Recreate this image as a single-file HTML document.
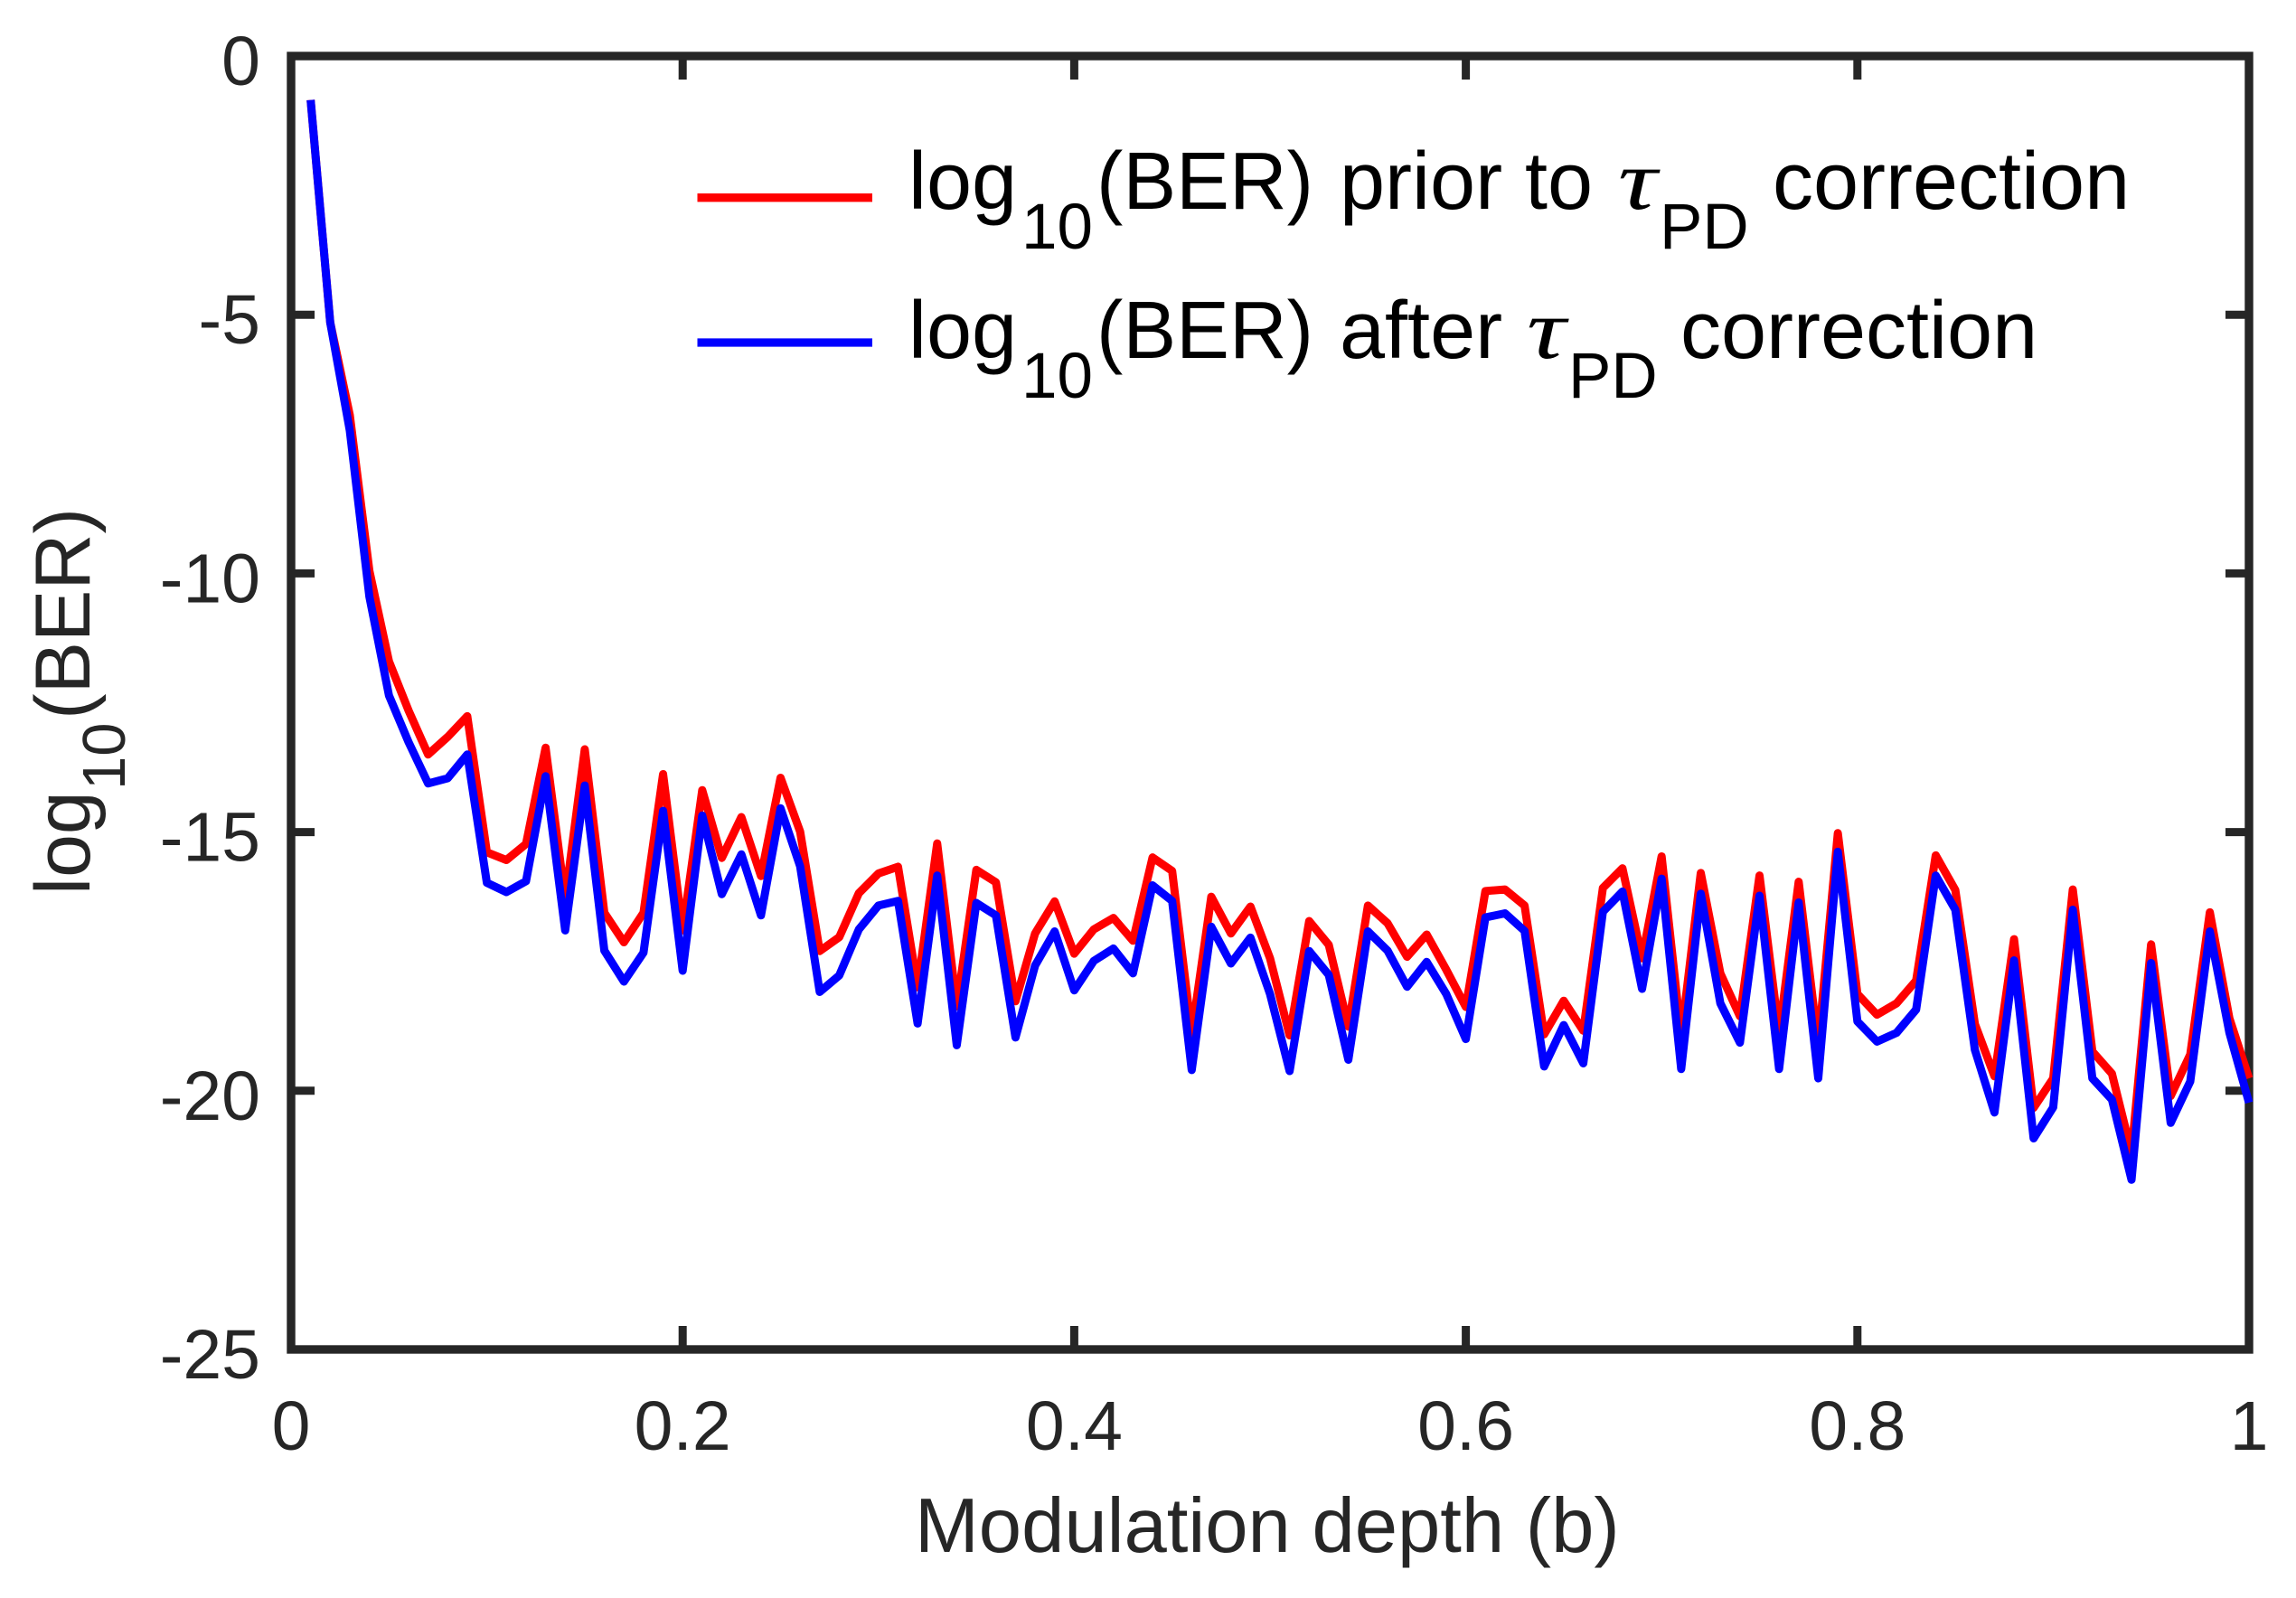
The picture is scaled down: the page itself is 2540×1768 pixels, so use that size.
<!DOCTYPE html>
<html lang="en">
<head>
<meta charset="utf-8">
<title>log10(BER) versus modulation depth</title>
<style>
  html, body { margin: 0; padding: 0; background: #ffffff; }
  body { width: 2540px; height: 1768px; overflow: hidden; }
  svg { display: block; }
  text { font-family: "Liberation Sans", Arial, sans-serif; }
  .tick-label { font-size: 77px; fill: #262626; }
  .axis-title { font-size: 86px; fill: #262626; }
  .axis-sub { font-size: 67px; fill: #262626; }
  .legend-text { font-size: 90px; fill: #000000; }
  .legend-sub { font-size: 71px; fill: #000000; }
  .legend-tau { font-family: "Liberation Serif", serif; font-style: italic; font-size: 94px; fill: #000000; }
</style>
</head>
<body>
<svg id="chart" xmlns="http://www.w3.org/2000/svg" width="2540" height="1768" viewBox="0 0 2540 1768">
  <rect x="0" y="0" width="2540" height="1768" fill="#ffffff"/>
  <g id="ticks"></g>
  <rect x="322" y="62" width="2166" height="1431" fill="none" stroke="#262626" stroke-width="9.4"/>
  <g id="series"></g>
  <g id="tick-labels"></g>

  <text class="axis-title" x="1012" y="1717" style="font-size:85px">Modulation depth (b)</text>

  <g transform="translate(99,984) rotate(-90)">
    <text class="axis-title" x="-6" y="0">log</text>
    <text class="axis-sub" x="110" y="39">10</text>
    <text class="axis-title" x="188" y="0">(BER)</text>
  </g>

  <g>
    <g>
      <line x1="771.5" y1="218.7" x2="965" y2="218.7" stroke="#ff0000" stroke-width="9.3"/>
      <text class="legend-text" x="1005" y="231">log</text>
      <text class="legend-sub" x="1130" y="275">10</text>
      <text class="legend-text" x="1213" y="231" textLength="240" lengthAdjust="spacingAndGlyphs">(BER)</text>
      <text class="legend-text" x="1482" y="231">prior to</text>
      <text class="legend-tau" transform="translate(1790,231) scale(1.28,1)" x="0" y="0">τ</text>
      <text class="legend-sub" x="1836" y="275">PD</text>
      <text class="legend-text" x="1961" y="231">correction</text>
    </g>
    <g>
      <line x1="771.5" y1="379" x2="965" y2="379" stroke="#0000ff" stroke-width="9.3"/>
      <text class="legend-text" x="1005" y="396">log</text>
      <text class="legend-sub" x="1130" y="440">10</text>
      <text class="legend-text" x="1213" y="396" textLength="240" lengthAdjust="spacingAndGlyphs">(BER)</text>
      <text class="legend-text" x="1482" y="396">after</text>
      <text class="legend-tau" transform="translate(1689,396) scale(1.28,1)" x="0" y="0">τ</text>
      <text class="legend-sub" x="1735" y="440">PD</text>
      <text class="legend-text" x="1859" y="396">correction</text>
    </g>
  </g>
</svg>

<script>
const modulationDepth = [
  0.01,0.02,0.03,0.04,0.05,0.06,0.07,0.08,0.09,0.10,
  0.11,0.12,0.13,0.14,0.15,0.16,0.17,0.18,0.19,0.20,
  0.21,0.22,0.23,0.24,0.25,0.26,0.27,0.28,0.29,0.30,
  0.31,0.32,0.33,0.34,0.35,0.36,0.37,0.38,0.39,0.40,
  0.41,0.42,0.43,0.44,0.45,0.46,0.47,0.48,0.49,0.50,
  0.51,0.52,0.53,0.54,0.55,0.56,0.57,0.58,0.59,0.60,
  0.61,0.62,0.63,0.64,0.65,0.66,0.67,0.68,0.69,0.70,
  0.71,0.72,0.73,0.74,0.75,0.76,0.77,0.78,0.79,0.80,
  0.81,0.82,0.83,0.84,0.85,0.86,0.87,0.88,0.89,0.90,
  0.91,0.92,0.93,0.94,0.95,0.96,0.97,0.98,0.99,1.00
];
const berPriorToCorrection = [
  -0.85,-5.15,-6.94,-9.95,-11.70,-12.65,-13.50,-13.16,-12.76,-15.39,
  -15.54,-15.23,-13.37,-16.30,-13.40,-16.56,-17.13,-16.56,-13.88,-16.90,
  -14.19,-15.50,-14.71,-15.85,-13.95,-14.99,-17.30,-17.03,-16.18,-15.80,
  -15.67,-18.00,-15.22,-18.37,-15.73,-15.97,-18.27,-16.96,-16.34,-17.35,
  -16.88,-16.66,-17.10,-15.49,-15.75,-18.90,-16.25,-16.96,-16.44,-17.44,
  -18.93,-16.72,-17.18,-18.76,-16.42,-16.76,-17.41,-16.98,-17.66,-18.38,
  -16.14,-16.11,-16.42,-18.91,-18.26,-18.84,-16.08,-15.70,-17.44,-15.47,
  -18.95,-15.79,-17.73,-18.56,-15.84,-18.90,-15.96,-19.12,-15.02,-18.13,
  -18.53,-18.31,-17.87,-15.45,-16.12,-18.71,-19.72,-17.07,-20.33,-19.76,
  -16.11,-19.24,-19.67,-21.20,-17.17,-20.10,-19.30,-16.55,-18.60,-19.76
];
const berAfterCorrection = [
  -0.85,-5.15,-7.24,-10.45,-12.36,-13.26,-14.06,-13.96,-13.50,-15.98,
  -16.16,-15.95,-13.92,-16.90,-14.10,-17.29,-17.89,-17.33,-14.59,-17.68,
  -14.68,-16.20,-15.43,-16.61,-14.54,-15.66,-18.09,-17.77,-16.88,-16.42,
  -16.33,-18.70,-15.84,-19.12,-16.37,-16.61,-18.97,-17.58,-16.92,-18.06,
  -17.49,-17.25,-17.73,-16.03,-16.33,-19.60,-16.83,-17.54,-17.04,-18.13,
  -19.62,-17.30,-17.76,-19.40,-16.92,-17.29,-17.99,-17.51,-18.13,-19.00,
  -16.65,-16.57,-16.91,-19.53,-18.73,-19.47,-16.54,-16.15,-18.03,-15.90,
  -19.58,-16.19,-18.31,-19.07,-16.23,-19.58,-16.36,-19.76,-15.38,-18.66,
  -19.05,-18.88,-18.43,-15.84,-16.50,-19.21,-20.42,-17.48,-20.92,-20.32,
  -16.50,-19.76,-20.17,-21.72,-17.53,-20.62,-19.82,-16.92,-18.88,-20.23
];
const xTickValues = [0, 0.2, 0.4, 0.6, 0.8, 1];
const xTickLabels = ["0", "0.2", "0.4", "0.6", "0.8", "1"];
const yTickValues = [0, -5, -10, -15, -20, -25];
const yTickLabels = ["0", "-5", "-10", "-15", "-20", "-25"];

const SVG_NS = "http://www.w3.org/2000/svg";
const plotLeft = 322, plotRight = 2488, plotTop = 62, plotBottom = 1493;
const xMin = 0, xMax = 1, yMin = -25, yMax = 0;
const tickLength = 26;

function xScale(v) { return plotLeft + (v - xMin) / (xMax - xMin) * (plotRight - plotLeft); }
function yScale(v) { return plotBottom - (v - yMin) / (yMax - yMin) * (plotBottom - plotTop); }

function tickLine(parent, x1, y1, x2, y2) {
  const l = document.createElementNS(SVG_NS, "line");
  l.setAttribute("x1", x1);
  l.setAttribute("y1", y1);
  l.setAttribute("x2", x2);
  l.setAttribute("y2", y2);
  l.setAttribute("stroke", "#262626");
  l.setAttribute("stroke-width", "9");
  
  
  parent.appendChild(l);
}

function tickText(parent, x, y, anchor, label) {
  const t = document.createElementNS(SVG_NS, "text");
  t.setAttribute("x", x);
  t.setAttribute("y", y);
  t.setAttribute("text-anchor", anchor);
  t.setAttribute("class", "tick-label");
  
  
  t.textContent = label;
  parent.appendChild(t);
}

const ticksGroup = document.getElementById("ticks");
const labelsGroup = document.getElementById("tick-labels");

xTickValues.forEach(function (v, i) {
  const x = xScale(v);
  tickLine(ticksGroup, x, plotBottom, x, plotBottom - tickLength);
  tickLine(ticksGroup, x, plotTop, x, plotTop + tickLength);
  tickText(labelsGroup, x, 1604, "middle", xTickLabels[i]);
});

yTickValues.forEach(function (v, i) {
  const y = yScale(v);
  tickLine(ticksGroup, plotLeft, y, plotLeft + tickLength, y);
  tickLine(ticksGroup, plotRight, y, plotRight - tickLength, y);
  tickText(labelsGroup, 288, y + 32, "end", yTickLabels[i]);
});

function drawSeries(values, color, name) {
  const p = document.createElementNS(SVG_NS, "polyline");
  const pts = values.map(function (v, i) {
    return xScale(modulationDepth[i]).toFixed(2) + "," + yScale(v).toFixed(2);
  }).join(" ");
  p.setAttribute("points", pts);
  p.setAttribute("fill", "none");
  p.setAttribute("stroke", color);
  p.setAttribute("stroke-width", "9");
  p.setAttribute("stroke-linejoin", "round");
  p.setAttribute("stroke-linecap", "butt");
  
  
  document.getElementById("series").appendChild(p);
}

drawSeries(berPriorToCorrection, "#ff0000", "ber-prior-line");
drawSeries(berAfterCorrection, "#0000ff", "ber-after-line");
</script>
</body>
</html>
